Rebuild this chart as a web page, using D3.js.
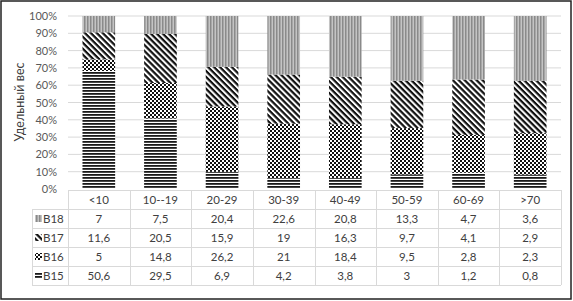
<!DOCTYPE html>
<html>
<head>
<meta charset="utf-8">
<script src="https://cdn.jsdelivr.net/npm/d3@7"></script>
<style>
  body { margin: 0; background: #fff; }
  svg { display: block; font-family: Lato, "Noto Sans", sans-serif; }
</style>
</head>
<body>
<svg id="chart"></svg>
<script>
let w = 573;
let h = 301;

// data
let categories = ["<10", "10--19", "20-29", "30-39", "40-49", "50-59", "60-69", ">70"];
let seriesNames = ["B15", "B16", "B17", "B18"];
let b15 = [50.6, 29.5, 6.9, 4.2, 3.8, 3, 1.2, 0.8];
let b16 = [5, 14.8, 26.2, 21, 18.4, 9.5, 2.8, 2.3];
let b17 = [11.6, 20.5, 15.9, 19, 16.3, 9.7, 4.1, 2.9];
let b18 = [7, 7.5, 20.4, 22.6, 20.8, 13.3, 4.7, 3.6];
let yTicks = [0, 0.1, 0.2, 0.3, 0.4, 0.5, 0.6, 0.7, 0.8, 0.9, 1];
let yTitle = "Удельный вес";

let values = {B15: b15, B16: b16, B17: b17, B18: b18};
let rows = categories.map((c, i) => {
  let r = {cat: c};
  seriesNames.forEach(s => r[s] = values[s][i]);
  return r;
});
let fmt = v => String(v).replace(".", ",");

let svg = d3.select("#chart").attr("width", w).attr("height", h);

// patterns that imitate the excel fills
let defs = svg.append("defs");
let p15 = defs.append("pattern").attr("id", "pB15").attr("patternUnits", "userSpaceOnUse")
  .attr("width", 4).attr("height", 3);
p15.append("rect").attr("width", 4).attr("height", 3).attr("fill", "#fff");
p15.append("rect").attr("width", 4).attr("height", 1.8).attr("fill", "#1a1a1a");

let p16 = defs.append("pattern").attr("id", "pB16").attr("patternUnits", "userSpaceOnUse")
  .attr("width", 4).attr("height", 4);
p16.append("rect").attr("width", 4).attr("height", 4).attr("fill", "#fff");
p16.append("rect").attr("width", 2).attr("height", 2).attr("fill", "#111");
p16.append("rect").attr("x", 2).attr("y", 2).attr("width", 2).attr("height", 2).attr("fill", "#111");

// wide downward diagonal
let p17 = defs.append("pattern").attr("id", "pB17").attr("patternUnits", "userSpaceOnUse")
  .attr("width", 4.2).attr("height", 4.2).attr("patternTransform", "rotate(45)");
p17.append("rect").attr("width", 4.2).attr("height", 4.2).attr("fill", "#fff");
p17.append("rect").attr("width", 4.2).attr("height", 2.2).attr("fill", "#111");

let p18 = defs.append("pattern").attr("id", "pB18").attr("patternUnits", "userSpaceOnUse")
  .attr("width", 3).attr("height", 3);
p18.append("rect").attr("width", 3).attr("height", 3).attr("fill", "#c4c4c4");
p18.append("rect").attr("width", 1.5).attr("height", 3).attr("fill", "#8a8a8a");

// outer frame
svg.append("rect").attr("x", 1).attr("y", 1).attr("width", w - 3).attr("height", h - 3)
  .attr("fill", "none").attr("stroke", "#222").attr("stroke-width", 1.5);

let plotLeft = 68, plotRight = 561;
let xScale = d3.scaleBand().domain(categories).range([plotLeft, plotRight]).padding(0);
let yScale = d3.scaleLinear().domain([0, 1]).range([189, 16]);
let barW = xScale.bandwidth() * 0.53;

// gridlines
svg.append("g").selectAll("line").data(yTicks.slice(1)).join("line")
  .attr("x1", plotLeft).attr("x2", plotRight)
  .attr("y1", d => yScale(d)).attr("y2", d => yScale(d))
  .attr("stroke", "#d9d9d9").attr("stroke-width", 1);

// y axis labels
let yAxis = d3.axisLeft(yScale).tickValues(yTicks).tickFormat(d3.format(".0%")).tickSize(0).tickPadding(0);
let yAxisGroup = svg.append("g").attr("transform", "translate(57,0)").call(yAxis);
yAxisGroup.select(".domain").remove();
yAxisGroup.selectAll("text").attr("font-size", 11).attr("fill", "#595959")
  .attr("font-family", "Lato, sans-serif");

svg.append("text")
  .attr("transform", "translate(24,102) rotate(-90)")
  .attr("text-anchor", "middle")
  .attr("font-size", 12.5).attr("fill", "#404040")
  .text(yTitle);

// stacked bars (100%)
let stackData = d3.stack().keys(seriesNames).offset(d3.stackOffsetExpand)(rows);
svg.append("g").selectAll("g").data(stackData).join("g")
  .attr("fill", d => `url(#p${d.key})`)
  .selectAll("rect").data(d => d).join("rect")
  .attr("x", d => xScale(d.data.cat) + (xScale.bandwidth() - barW) / 2)
  .attr("y", d => yScale(d[1]))
  .attr("width", barW)
  .attr("height", d => yScale(d[0]) - yScale(d[1]));

// data table
let tableTop = 190, rowH = 19, tableLeft = 32;
let tableRows = seriesNames.slice().reverse();
let tableBottom = tableTop + rowH * (tableRows.length + 1);
let grid = svg.append("g").attr("stroke", "#d9d9d9").attr("stroke-width", 1);
grid.append("line").attr("x1", plotLeft).attr("x2", plotRight)
  .attr("y1", tableTop + 0.5).attr("y2", tableTop + 0.5);
d3.range(1, tableRows.length + 2).forEach(i => {
  grid.append("line").attr("x1", tableLeft).attr("x2", plotRight)
    .attr("y1", tableTop + i * rowH + 0.5).attr("y2", tableTop + i * rowH + 0.5);
});
categories.concat(["end"]).forEach((c, i) => {
  let x = Math.round(plotLeft + i * xScale.step()) + 0.5;
  grid.append("line").attr("x1", x).attr("x2", x).attr("y1", tableTop).attr("y2", tableBottom);
});
grid.append("line").attr("x1", tableLeft + 0.5).attr("x2", tableLeft + 0.5)
  .attr("y1", tableTop + rowH).attr("y2", tableBottom);

let txt = svg.append("g").attr("font-size", 11.5).attr("fill", "#404040").attr("text-anchor", "middle");
txt.selectAll(".hdr").data(categories).join("text").attr("class", "hdr")
  .attr("x", d => xScale(d) + xScale.bandwidth() / 2)
  .attr("y", tableTop + rowH / 2 + 4)
  .text(d => d);

tableRows.forEach((s, r) => {
  let yMid = tableTop + rowH * (r + 1) + rowH / 2;
  txt.selectAll(".v" + s).data(values[s]).join("text")
    .attr("x", (d, i) => xScale(categories[i]) + xScale.bandwidth() / 2)
    .attr("y", yMid + 4)
    .text(d => fmt(d));
  svg.append("rect").attr("x", 35).attr("y", yMid - 3.5).attr("width", 7).attr("height", 7)
    .attr("fill", `url(#p${s})`);
  svg.append("text").attr("x", 43).attr("y", yMid + 4).attr("font-size", 11.5)
    .attr("fill", "#404040").text(s);
});
</script>
</body>
</html>
